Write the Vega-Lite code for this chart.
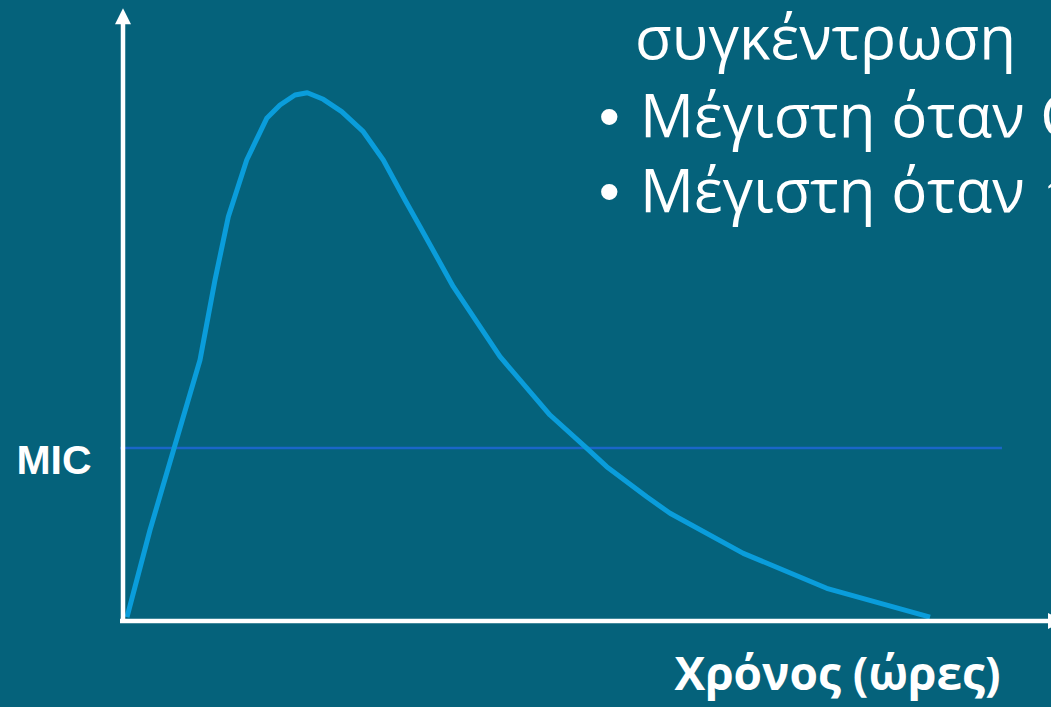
{
  "$schema": "https://vega.github.io/schema/vega-lite/v6.json",
  "width": 1051,
  "height": 707,
  "autosize": {"type": "none"},
  "padding": 0,
  "background": "#05627b",
  "config": {"view": {"stroke": null}},
  "datasets": {
    "curve": [
      {"t": 0.119, "c": 0.092},
      {"t": 0.803, "c": 2.104},
      {"t": 2.290, "c": 6.035},
      {"t": 2.736, "c": 7.884},
      {"t": 3.132, "c": 9.348},
      {"t": 3.679, "c": 10.659},
      {"t": 4.274, "c": 11.623},
      {"t": 4.669, "c": 11.931},
      {"t": 5.115, "c": 12.162},
      {"t": 5.481, "c": 12.215},
      {"t": 5.957, "c": 12.062},
      {"t": 6.504, "c": 11.776},
      {"t": 7.147, "c": 11.313},
      {"t": 7.741, "c": 10.659},
      {"t": 8.387, "c": 9.734},
      {"t": 8.833, "c": 9.117},
      {"t": 9.823, "c": 7.730},
      {"t": 11.212, "c": 6.111},
      {"t": 12.699, "c": 4.763},
      {"t": 13.740, "c": 4.030},
      {"t": 14.385, "c": 3.568},
      {"t": 15.575, "c": 2.874},
      {"t": 16.268, "c": 2.490},
      {"t": 18.448, "c": 1.565},
      {"t": 20.928, "c": 0.756},
      {"t": 24.000, "c": 0.092}
    ],
    "mic": [{"t": -0.089, "t2": 26.14, "c": 4.0}],
    "axes": [
      {"t": 0, "t2": 0, "c": -0.046, "c2": 13.9},
      {"t": -0.089, "t2": 27.55, "c": 0, "c2": 0}
    ],
    "arrowUp": [{"t": 0, "c": 13.984}],
    "arrowRight": [{"t": 27.747, "c": 0}],
    "micLabel": [{"t": -2.052, "c": 3.40, "label": "MIC"}],
    "xLabel": [{"t": 21.249, "c": -1.595, "label": "Χρόνος (ώρες)"}],
    "line1": [{"t": 15.23, "c": 12.99, "label": "συγκέντρωση"}],
    "bullets": [
      {"t": 14.458, "c": 11.191, "label": "•"},
      {"t": 14.458, "c": 9.457, "label": "•"}
    ],
    "bulletText": [
      {"t": 15.375, "c": 11.191, "label": "Μέγιστη όταν C"},
      {"t": 15.375, "c": 9.457, "label": "Μέγιστη όταν ↑"}
    ]
  },
  "layer": [
    {
      "data": {"name": "mic"},
      "mark": {"type": "rule", "color": "#1a66c8", "strokeWidth": 2.5},
      "encoding": {
        "x": {"field": "t", "type": "quantitative", "scale": {"domain": [-3.658, 27.598], "nice": false, "zero": false}, "axis": null},
        "x2": {"field": "t2"},
        "y": {"field": "c", "type": "quantitative", "scale": {"domain": [-1.988, 14.358], "nice": false, "zero": false}, "axis": null}
      }
    },
    {
      "data": {"name": "curve"},
      "mark": {"type": "line", "color": "#0a9ddb", "strokeWidth": 5, "strokeJoin": "round", "strokeCap": "butt"},
      "encoding": {
        "x": {"field": "t", "type": "quantitative"},
        "y": {"field": "c", "type": "quantitative"}
      }
    },
    {
      "data": {"name": "axes"},
      "mark": {"type": "rule", "color": "#ffffff", "strokeWidth": 4.5, "strokeCap": "butt"},
      "encoding": {
        "x": {"field": "t", "type": "quantitative"},
        "x2": {"field": "t2"},
        "y": {"field": "c", "type": "quantitative"},
        "y2": {"field": "c2"}
      }
    },
    {
      "data": {"name": "arrowUp"},
      "mark": {"type": "point", "shape": "M0,-1L1,1L-1,1Z", "filled": true, "color": "#ffffff", "opacity": 1, "size": 256},
      "encoding": {
        "x": {"field": "t", "type": "quantitative"},
        "y": {"field": "c", "type": "quantitative"}
      }
    },
    {
      "data": {"name": "arrowRight"},
      "mark": {"type": "point", "shape": "M1,0L-1,-1L-1,1Z", "filled": true, "color": "#ffffff", "opacity": 1, "size": 256, "clip": false},
      "encoding": {
        "x": {"field": "t", "type": "quantitative"},
        "y": {"field": "c", "type": "quantitative"}
      }
    },
    {
      "data": {"name": "micLabel"},
      "mark": {"type": "text", "font": "Liberation Sans", "fontWeight": "bold", "fontSize": 41, "color": "#ffffff", "align": "center", "baseline": "alphabetic"},
      "encoding": {
        "x": {"field": "t", "type": "quantitative"},
        "y": {"field": "c", "type": "quantitative"},
        "text": {"field": "label"}
      }
    },
    {
      "data": {"name": "xLabel"},
      "mark": {"type": "text", "font": "Open Sans", "fontWeight": "bold", "fontSize": 46, "color": "#ffffff", "align": "center", "baseline": "alphabetic"},
      "encoding": {
        "x": {"field": "t", "type": "quantitative"},
        "y": {"field": "c", "type": "quantitative"},
        "text": {"field": "label"}
      }
    },
    {
      "data": {"name": "line1"},
      "mark": {"type": "text", "font": "Open Sans", "fontSize": 60, "color": "#ffffff", "align": "left", "baseline": "alphabetic"},
      "encoding": {
        "x": {"field": "t", "type": "quantitative"},
        "y": {"field": "c", "type": "quantitative"},
        "text": {"field": "label"}
      }
    },
    {
      "data": {"name": "bullets"},
      "mark": {"type": "text", "font": "Liberation Sans", "fontSize": 60, "color": "#ffffff", "align": "center", "baseline": "alphabetic"},
      "encoding": {
        "x": {"field": "t", "type": "quantitative"},
        "y": {"field": "c", "type": "quantitative"},
        "text": {"field": "label"}
      }
    },
    {
      "data": {"name": "bulletText"},
      "mark": {"type": "text", "font": "Open Sans", "fontSize": 60, "color": "#ffffff", "align": "left", "baseline": "alphabetic"},
      "encoding": {
        "x": {"field": "t", "type": "quantitative"},
        "y": {"field": "c", "type": "quantitative"},
        "text": {"field": "label"}
      }
    }
  ]
}
